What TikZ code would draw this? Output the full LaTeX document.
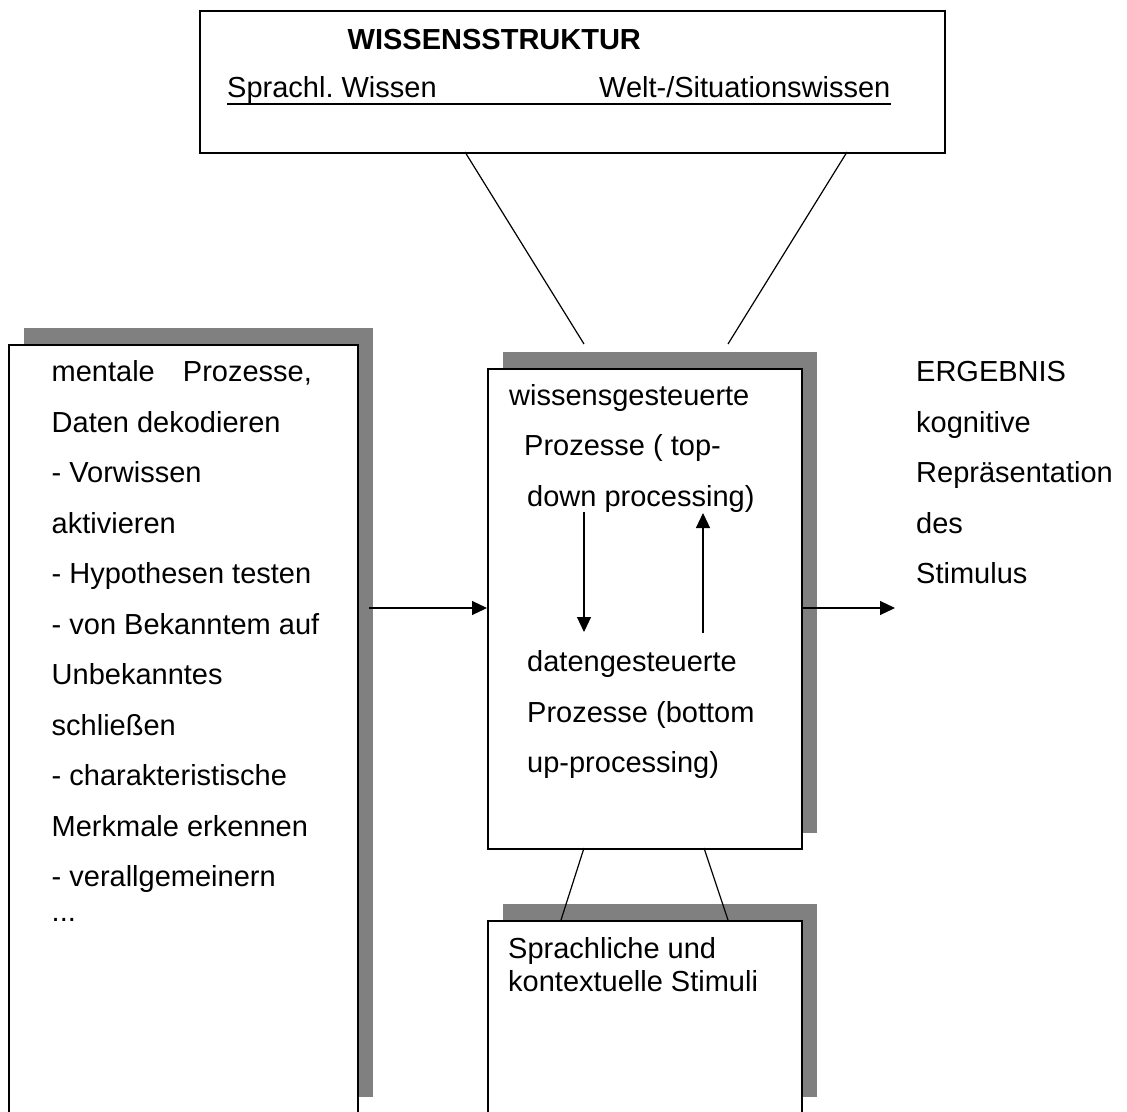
\documentclass[tikz,border=0pt]{standalone}
\usepackage{fontspec}
\setmainfont{Liberation Sans}
\usetikzlibrary{arrows.meta}
\definecolor{shadowgray}{RGB}{128,128,128}
\begin{document}
\begin{tikzpicture}[x=1pt,y=-1pt,
  box/.style={draw, fill=white, line width=1.6pt, inner sep=0pt, anchor=north west},
  shadowfill/.style={fill=shadowgray},
  conn/.style={line width=1.2pt},
  arr/.style={line width=1.2pt, -{Triangle[length=15pt,width=14pt]}},
  txt/.style={inner sep=0pt, anchor=base west, font=\fontsize{29}{50.5}\selectfont},
  stxt/.style={inner sep=0pt, anchor=base west, font=\fontsize{29}{33.7}\selectfont}]
\useasboundingbox (0,0) rectangle (1127,1111);
\clip (0,0) rectangle (1127,1111);
\fill[white] (0,0) rectangle (1127,1111);

% shadows
\fill[shadowfill] (24,328) rectangle (373,1097);
\fill[shadowfill] (503,352) rectangle (817,833);
\fill[shadowfill] (503,904) rectangle (817,1097);

% boxes
\node[box, minimum width=745pt, minimum height=142pt] (W) at (199,10) {};
\node[box, minimum width=349pt, minimum height=769pt] (L) at (8,344) {};
\node[box, minimum width=314pt, minimum height=480pt] (M) at (487,368) {};
\node[box, minimum width=314pt, minimum height=193pt] (S) at (487,920) {};

% top box texts
\node[txt, font=\fontsize{29}{35}\selectfont\bfseries] (Wt) at (347.5,49.3) {WISSENSSTRUKTUR};
\node[txt, font=\fontsize{29}{35}\selectfont] (W1) at (227,97.3) {Sprachl.\ Wissen};
\node[txt, font=\fontsize{29}{35}\selectfont] (W2) at (599,97.3) {Welt-/Situationswissen};
\draw[line width=2.2pt] ([yshift=-6.5pt]W1.base west) -- ([yshift=-6.5pt]W2.base east);

% left box text
\node[txt] (Lt) at (51.5,381.7) {\begin{tabular}[t]{@{}l@{}}\makebox[131.3pt][l]{mentale}Prozesse,\\
Daten dekodieren\\
- Vorwissen\\
aktivieren\\
- Hypothesen testen\\
- von Bekanntem auf\\
Unbekanntes\\
schließen\\
- charakteristische\\
Merkmale erkennen\\
- verallgemeinern\\[-15.5pt]
...\end{tabular}};

% middle box texts
\node[txt] (Mt) at (509,405) {\begin{tabular}[t]{@{}l@{}}wissensgesteuerte\\
\hspace*{15pt}Prozesse ( top-\\
\hspace*{18pt}down processing)\end{tabular}};
\node[txt] (Mb) at (527,671.7) {\begin{tabular}[t]{@{}l@{}}datengesteuerte\\
Prozesse (bottom\\
up-processing)\end{tabular}};

% bottom box text
\node[stxt] (St) at (508,958) {\begin{tabular}[t]{@{}l@{}}Sprachliche und\\
kontextuelle Stimuli\end{tabular}};

% result text
\node[txt] (R) at (916,381.7) {\begin{tabular}[t]{@{}l@{}}ERGEBNIS\\
kognitive\\
Repräsentation\\
des\\
Stimulus\end{tabular}};

% connector coordinates
\coordinate (wa) at (465,152);
\coordinate (wb) at (847,152);
\coordinate (ma) at (584,344);
\coordinate (mb) at (728,344);
\coordinate (mc) at (584,848);
\coordinate (md) at (704,848);
\coordinate (sa) at (561,920);
\coordinate (sb) at (728,920);
\coordinate (la) at (369,608);
\coordinate (rb) at (895,608);
\coordinate (d1) at (584,512);
\coordinate (d2) at (584,632);
\coordinate (u1) at (703,633);
\coordinate (u2) at (703,513);

\draw[conn] (wa) -- (ma);
\draw[conn] (wb) -- (mb);
\draw[conn] (mc) -- (sa);
\draw[conn] (md) -- (sb);
\draw[arr] (la) -- (M.west |- la);
\draw[arr] (M.east |- rb) -- (rb);
\draw[arr] (d1) -- (d2);
\draw[arr] (u1) -- (u2);
\end{tikzpicture}
\end{document}
